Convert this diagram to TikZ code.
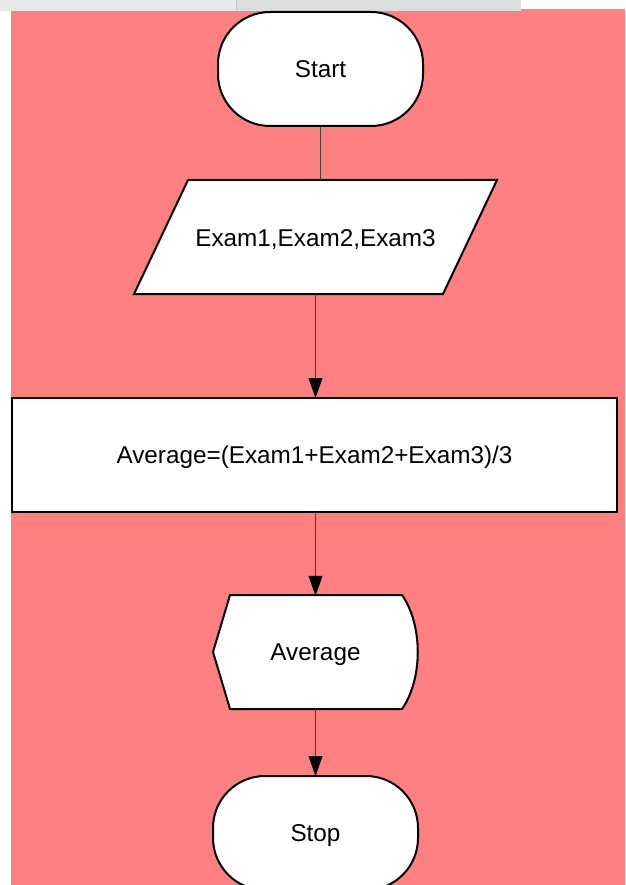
\documentclass[tikz,border=0pt]{standalone}
\usepackage{fontspec}
\setmainfont{Liberation Sans}
\usetikzlibrary{arrows.meta}
\definecolor{bgpink}{HTML}{FF8080}
\definecolor{barA}{HTML}{E6E7E6}
\definecolor{barB}{HTML}{DCDEDD}
\definecolor{barLine}{HTML}{C8CAC9}
\begin{document}
\begin{tikzpicture}[x=1pt,y=-1pt,
  every node/.style={font=\fontsize{24.3}{28}\selectfont, text=black, text height=17pt, text depth=0pt},
  terminal/.style={draw=black, line width=2pt, fill=white, rounded corners=52pt,
     minimum width=205pt, minimum height=114pt, inner sep=0pt},
  procbox/.style={draw=black, line width=2pt, fill=white,
     minimum width=605pt, minimum height=114pt, inner sep=0pt},
  ghost/.style={draw=none, inner sep=0pt},
  outline/.style={draw=black, line width=2pt, fill=white, line join=miter},
  conn/.style={draw=black!75, line width=1pt},
  arr/.style={conn, -{Triangle[length=20pt,width=14pt,color=black,fill=black]}, shorten >=-1pt}
]
\useasboundingbox (0,0) rectangle (625,885);
\fill[white] (0,0) rectangle (625,885);
\fill[bgpink] (11,9) rectangle (625,885);
\fill[barA] (0,0) rectangle (236,11);
\fill[barB] (236,0) rectangle (521,11);
\draw[barLine, line width=1pt] (236.5,0) -- (236.5,11);

% Start
\node[terminal] (start) at (320.5,69) {Start};

% Parallelogram (input)
\node[ghost, minimum width=363pt, minimum height=114pt] (inp) at (315.5,237) {};
\coordinate (p1) at (188,180);
\coordinate (p2) at (497,180);
\coordinate (p3) at (443,294);
\coordinate (p4) at (134,294);
\path[outline] (p1) -- (p2) -- (p3) -- (p4) -- cycle;
\node (inptext) at (315.5,238) {Exam1,Exam2,Exam3};

% Process
\node[procbox] (proc) at (314.5,455) {Average=(Exam1+Exam2+Exam3)/3};

% Display
\node[ghost, minimum width=205pt, minimum height=114pt] (disp) at (315.5,652) {};
\coordinate (d1) at (230,595);
\coordinate (d2) at (402,595);
\coordinate (d3) at (402,709);
\coordinate (d4) at (230,709);
\coordinate (d5) at (213,652);
\path[outline] (d1) -- (d2) .. controls (423,625) and (423,679) .. (d3) -- (d4) -- (d5) -- cycle;
\node (disptext) at (315.5,652) {Average};

% Stop
\node[terminal] (stop) at (315.5,833) {Stop};

% Connectors
\draw[conn] (start.south) -- (start.south |- inp.north);
\draw[arr] (inp.south) -- (proc.north -| inp.south);
\draw[arr] (proc.south -| disp.north) -- (disp.north);
\draw[arr] (disp.south) -- (stop.north);
\end{tikzpicture}
\end{document}
